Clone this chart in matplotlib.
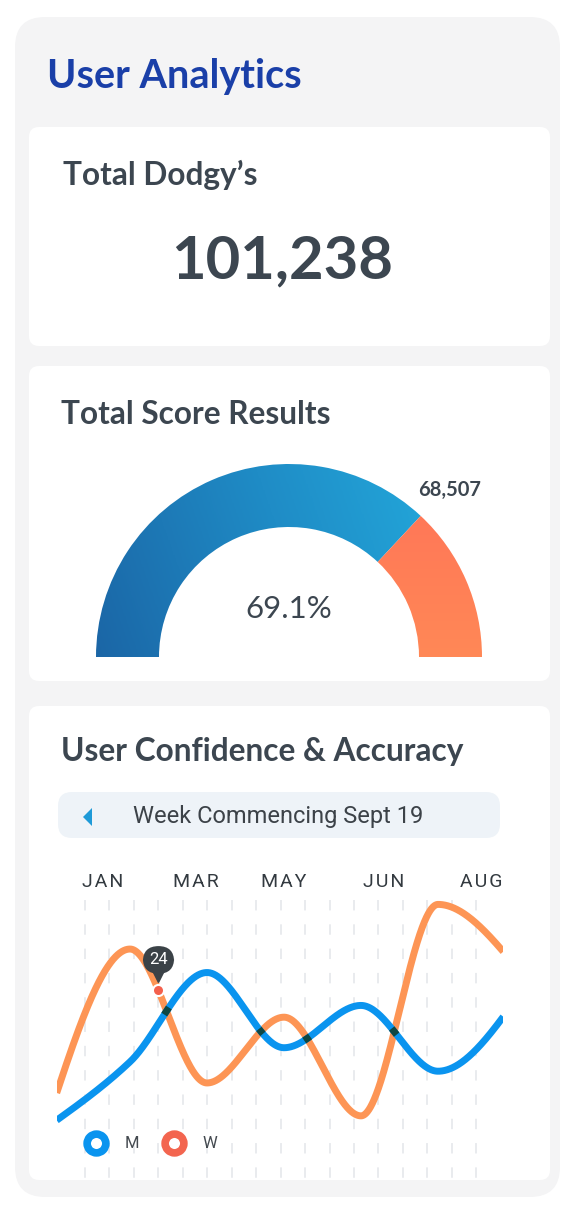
import numpy as np
import matplotlib
matplotlib.use("Agg")
import matplotlib.pyplot as plt
from matplotlib.patches import FancyBboxPatch, Wedge, Polygon
from matplotlib.colors import LinearSegmentedColormap
from matplotlib.lines import Line2D
from matplotlib import transforms

plt.rcParams['lines.scale_dashes'] = False

# ---- data ----
total_dodgys = 101238
score_value = 68507
score_pct = 69.1
gauge_max = 92700          # arc scale of the gauge (blue part = score_value / gauge_max)
months = ["JAN", "MAR", "MAY", "JUN", "AUG"]
month_pos = [0.65, 1.86, 2.99, 4.29, 5.56]   # where the month labels sit on the x axis
x_idx = np.arange(7)
m_values = [3, 29, 67, 35, 53, 25, 55]
w_values = [11, 77, 20, 48, 6, 96, 70]
tip_x = 1.37
tip_label = "24"
week_label = "Week Commencing Sept 19"

HEAD = ['Lato', 'DejaVu Sans']
BODY = ['Roboto', 'DejaVu Sans']
DARK = '#3c4650'
BLUE = '#0a94ef'
ORANGE = '#fd9555'
RED = '#f3654f'


def monotone(x, y, n=1500):
    # monotone cubic (like d3 curveMonotoneX)
    x = np.asarray(x, float)
    y = np.asarray(y, float)
    h = np.diff(x)
    s = np.diff(y) / h
    m = np.zeros_like(y)
    for k in range(1, len(x) - 1):
        if s[k - 1] * s[k] <= 0:
            m[k] = 0
        else:
            w1 = 2 * h[k] + h[k - 1]
            w2 = h[k] + 2 * h[k - 1]
            m[k] = (w1 + w2) / (w1 / s[k - 1] + w2 / s[k])
    m[0] = (3 * s[0] - m[1]) / 2
    m[-1] = (3 * s[-1] - m[-2]) / 2
    xs = np.linspace(x[0], x[-1], n)
    k = np.clip(np.searchsorted(x, xs) - 1, 0, len(x) - 2)
    t = (xs - x[k]) / h[k]
    h00 = 2 * t**3 - 3 * t**2 + 1
    h10 = t**3 - 2 * t**2 + t
    h01 = -2 * t**3 + 3 * t**2
    h11 = t**3 - t**2
    ys = h00 * y[k] + h10 * h[k] * m[k] + h01 * y[k + 1] + h11 * h[k] * m[k + 1]
    return xs, ys


fig = plt.figure(figsize=(5.76, 12.15), dpi=100)
fig.patch.set_facecolor('white')

# background axes in pixel units for the cards
bg = fig.add_axes([0, 0, 1, 1])
bg.set_xlim(0, 576)
bg.set_ylim(1215, 0)
bg.axis('off')


def card(x0, y0, x1, y1, r, color, z=0):
    bg.add_patch(FancyBboxPatch((x0, y0), x1 - x0, y1 - y0,
                                boxstyle=f"round,pad=0,rounding_size={r}",
                                fc=color, ec='none', zorder=z))


card(15, 17, 560, 1197, 30, '#f4f4f5')
card(29, 127, 550, 346, 10, 'white', 1)
card(29, 366, 550, 681, 10, 'white', 1)
card(29, 706, 550, 1180, 10, 'white', 1)

bg.text(47, 88, "User Analytics", family=HEAD, weight='bold', fontsize=28.5,
        color='#1a3fa8', va='baseline', zorder=3)
bg.text(63, 185, "Total Dodgy\u2019s", family=HEAD, weight='bold', fontsize=22.8,
        color=DARK, va='baseline', zorder=3)
bg.text(282, 278, f"{total_dodgys:,}", family=HEAD, weight='bold', fontsize=43,
        color=DARK, ha='center', va='baseline', zorder=3)
bg.text(61, 424, "Total Score Results", family=HEAD, weight='bold', fontsize=22.8,
        color=DARK, va='baseline', zorder=3)
bg.text(61, 761, "User Confidence & Accuracy", family=HEAD, weight='bold', fontsize=22.8,
        color=DARK, va='baseline', zorder=3)

# week selector
card(58, 792, 500, 838, 14, '#eef3f8', 2)
bg.add_patch(Polygon([(83, 817), (92, 808), (92, 826)], closed=True,
                     fc='#1e9ad8', ec='none', zorder=3))
bg.text(133, 817, week_label, family=BODY, fontsize=17, color='#3c4248',
        va='center', zorder=3)

# dashed grid behind the chart
for gx in np.arange(85, 480, 24.45):
    bg.plot([gx, gx], [900, 1180], color='#e9ebee', lw=1.4,
            linestyle=(0, (7.5, 10)), zorder=2)

# ---- gauge ----
R = 193
cx, cy = 289, 657
gax = fig.add_axes([(cx - 250) / 576, (1215 - (cy + 30)) / 1215, 500 / 576, 280 / 1215])
gax.set_xlim(-250 / R, 250 / R)
gax.set_ylim(-30 / R, 250 / R)
gax.axis('off')
gax.patch.set_alpha(0)

split = 180 - 180 * score_value / gauge_max
ring = 63 / R
blue_w = Wedge((0, 0), 1, split, 180, width=ring, transform=gax.transData)
orange_w = Wedge((0, 0), 1, 0, split, width=ring, transform=gax.transData)

gx_, gy_ = np.meshgrid(np.linspace(0, 1, 300), np.linspace(0, 1, 150))
bluecm = LinearSegmentedColormap.from_list('b', ['#1b66a6', '#1f8cc6', '#24afe0'])
im = gax.imshow(gx_ * 0.85 + gy_ * 0.15, cmap=bluecm, extent=(-1, 1, 0, 1),
                origin='lower', aspect='auto', zorder=2)
im.set_clip_path(blue_w)
orcm = LinearSegmentedColormap.from_list('o', ['#ff8856', '#ff7258'])
im2 = gax.imshow(gy_, cmap=orcm, extent=(-1, 1, 0, 1),
                 origin='lower', aspect='auto', zorder=2)
im2.set_clip_path(orange_w)

ang = np.deg2rad(split - 1)
gax.text(1.2 * np.cos(ang), 1.2 * np.sin(ang), f"{score_value:,}", family=HEAD,
         weight='bold', fontsize=14.5, color=DARK, ha='center', va='center')
gax.text(0, 0.25, f"{score_pct}%", family=HEAD, fontsize=22.5, color=DARK,
         ha='center', va='center')

# ---- line chart ----
ax = fig.add_axes([57 / 576, (1215 - 1180) / 1215, 446 / 576, 285 / 1215])
ax.set_xlim((57 - 53) / 77, (503 - 53) / 77)
ax.set_ylim(-21.3, 100)
ax.patch.set_alpha(0)
for sp in ax.spines.values():
    sp.set_visible(False)
ax.xaxis.tick_top()
ax.set_xticks(month_pos)
ax.set_xticklabels(["\u200a".join(m) for m in months], family=BODY, fontsize=14,
                   color='#333a40')
ax.tick_params(axis='x', length=0, pad=3)
ax.set_yticks([])

xs, ws = monotone(x_idx, w_values)
_, ms = monotone(x_idx, m_values)
ax.plot(xs, ws, color=ORANGE, lw=5, solid_capstyle='butt', zorder=3)
ax.plot(xs, ms, color=BLUE, lw=5, solid_capstyle='butt', zorder=4)

# darker patches where the two strokes overlap
pw = ax.transData.transform(np.column_stack([xs, ws]))
pm = ax.transData.transform(np.column_stack([xs, ms]))
d = np.min(np.hypot(pm[:, None, 0] - pw[None, ::2, 0], pm[:, None, 1] - pw[None, ::2, 1]), axis=1)
ax.plot(xs, np.where(d < 3.6, ms, np.nan), color='#0e4744', lw=5,
        solid_capstyle='butt', zorder=5)

# tooltip
tip_y = np.interp(tip_x, xs, ws)
ax.plot([tip_x], [tip_y], 'o', ms=8, mfc='#f4604c', mec='white', mew=1.5, zorder=7)
tri = transforms.offset_copy(ax.transData, fig=fig, x=0, y=11, units='points')
ax.plot([tip_x], [tip_y], 'v', ms=10, color='#3b4247', transform=tri, zorder=7)
ax.annotate(tip_label, (tip_x, tip_y), xytext=(0, 22), textcoords='offset points',
            ha='center', va='center', family=BODY, fontsize=12, color='white',
            bbox=dict(boxstyle='round,pad=0.38,rounding_size=0.95', fc='#3b4247', ec='none'),
            zorder=8)

handles = [Line2D([], [], marker='o', ls='none', ms=13.5, mfc='white', mec=BLUE, mew=5.5),
           Line2D([], [], marker='o', ls='none', ms=13.5, mfc='white', mec=RED, mew=5.5)]
leg = fig.legend(handles, ['M', 'W'], loc='center left', ncol=2, frameon=False,
                 bbox_to_anchor=(70 / 576, 1 - 1144 / 1215), handlelength=1.3,
                 handletextpad=1.1, columnspacing=1.4,
                 prop={'family': BODY, 'size': 12})
for t in leg.get_texts():
    t.set_color('#444a50')

fig.savefig('out.png', dpi=100, facecolor='white')
